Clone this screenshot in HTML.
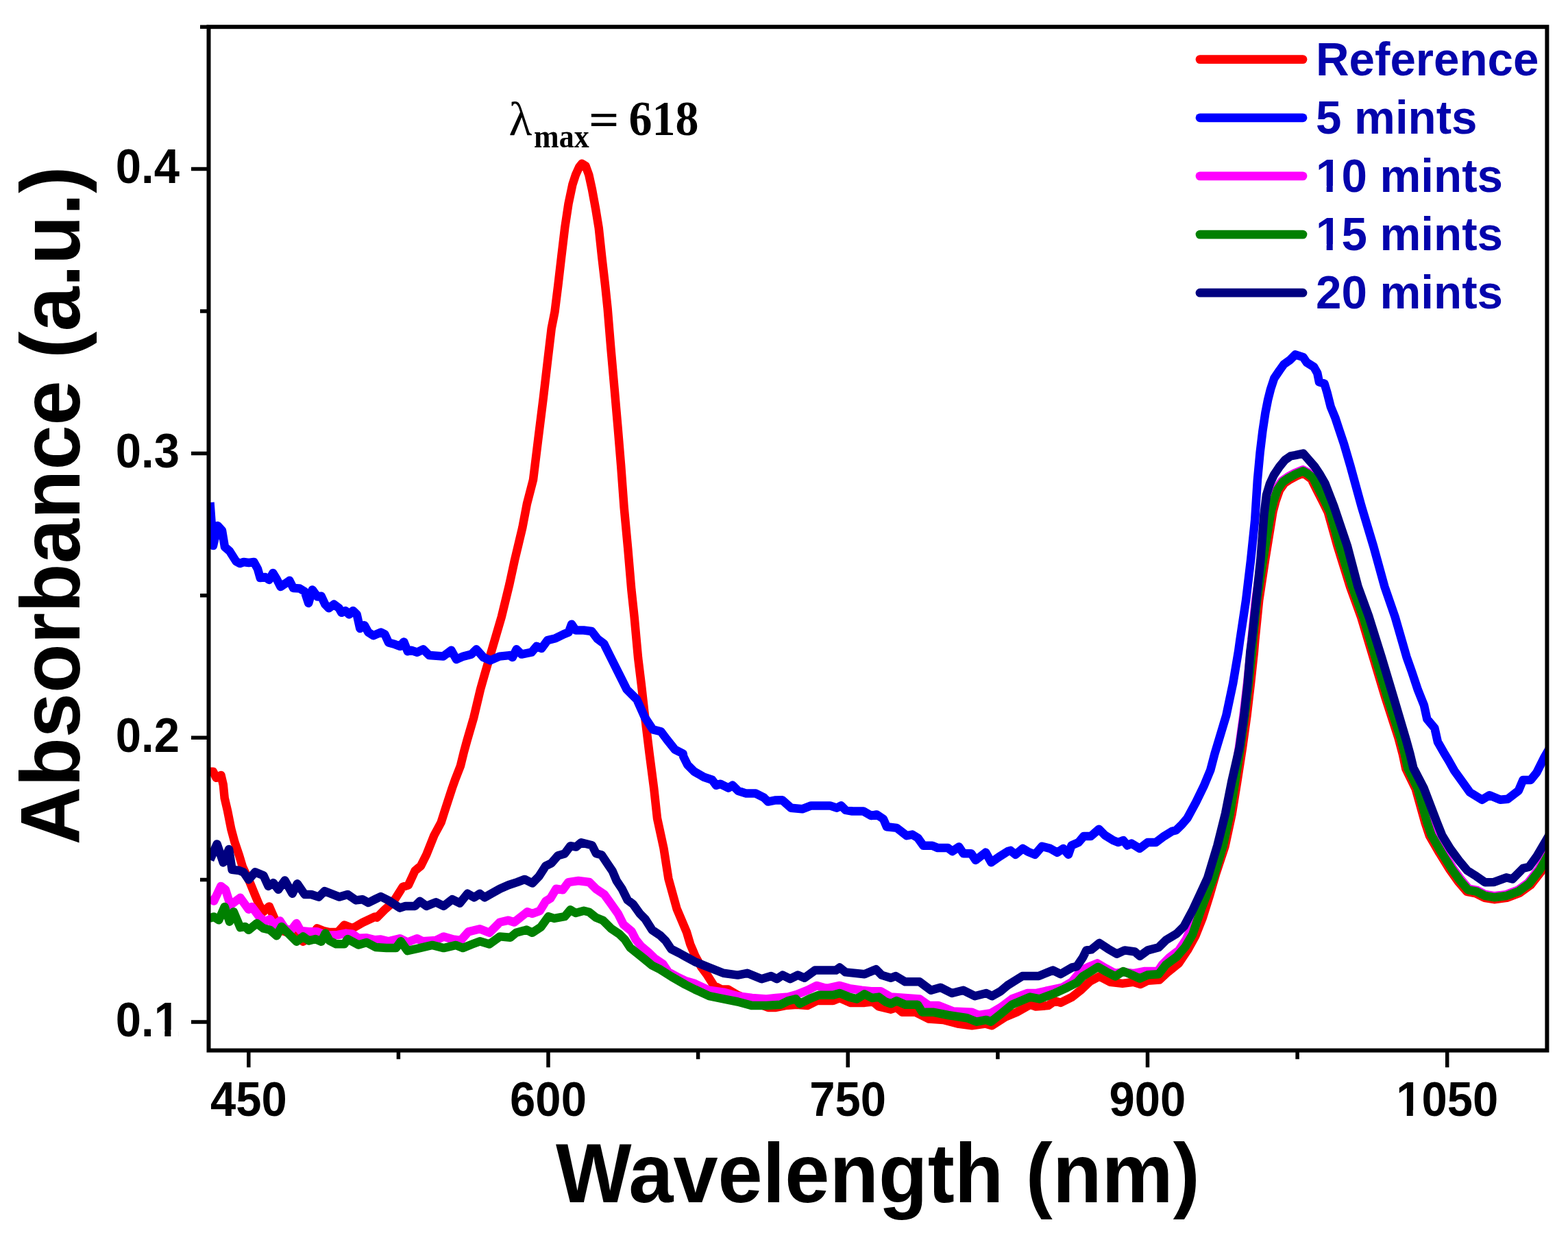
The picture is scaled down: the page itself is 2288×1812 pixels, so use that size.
<!DOCTYPE html>
<html><head><meta charset="utf-8"><title>Absorbance spectra</title>
<style>
html,body{margin:0;padding:0;background:#fff;width:2288px;height:1812px;overflow:hidden}
svg{display:block}
.tl{font-family:"Liberation Sans",sans-serif;font-weight:bold;font-size:67px;fill:#000}
.tt{font-family:"Liberation Sans",sans-serif;font-weight:bold;font-size:117.2px;fill:#000}
.lg{font-family:"Liberation Sans",sans-serif;font-weight:bold;font-size:67.3px;fill:#0404ac}
</style></head><body>
<svg width="2288" height="1812" viewBox="0 0 2288 1812">
<defs><clipPath id="pc"><rect x="304.5" y="39.2" width="1952.9" height="1493.3"/></clipPath></defs>
<rect width="2288" height="1812" fill="#fff"/>
<g clip-path="url(#pc)"><path d="M305.5 1125.8 L311.0 1125.8 L315.5 1134.8 L322.5 1131.0 L325.8 1145.0 L327.7 1164.4 L332.2 1183.7 L337.3 1209.5 L342.5 1228.8 L349.0 1248.0 L354.0 1264.8 L363.9 1285.7 L372.3 1306.2 L378.4 1320.6 L384.4 1330.3 L392.8 1322.4 L400.0 1338.7 L404.0 1352.0 L412.0 1358.0 L425.0 1362.0 L442.2 1373.7 L452.0 1368.0 L462.7 1354.4 L472.0 1358.0 L480.8 1360.0 L492.9 1360.0 L502.5 1349.6 L514.6 1354.4 L529.0 1346.0 L547.1 1337.5 L550.0 1338.6 L561.1 1327.4 L573.6 1316.3 L587.6 1294.0 L595.9 1291.3 L605.6 1270.4 L614.0 1263.4 L622.3 1246.8 L633.4 1218.9 L643.6 1199.9 L649.0 1182.8 L659.7 1150.0 L664.6 1136.2 L671.9 1117.5 L676.5 1098.7 L681.6 1080.0 L691.1 1047.5 L701.1 1005.4 L707.1 984.3 L719.5 942.1 L731.8 900.0 L743.4 852.3 L751.0 817.1 L762.2 770.3 L768.9 735.1 L778.0 700.0 L785.4 640.1 L792.7 581.6 L799.5 523.1 L804.7 479.3 L809.5 455.0 L814.3 416.6 L819.2 374.5 L824.2 332.4 L829.5 297.2 L835.4 269.2 L840.0 255.1 L845.0 244.0 L849.2 238.7 L854.5 242.0 L859.3 255.1 L863.9 276.2 L869.1 304.3 L873.7 332.4 L878.2 374.5 L883.1 416.6 L886.6 450.0 L891.4 508.5 L896.6 567.0 L901.7 625.5 L906.2 680.0 L910.6 740.0 L916.2 800.0 L921.3 860.0 L925.6 900.0 L931.1 960.0 L936.0 1000.0 L941.6 1050.0 L947.7 1100.0 L954.2 1150.0 L959.0 1193.9 L968.5 1237.8 L975.4 1281.8 L987.5 1325.7 L1002.0 1360.0 L1007.2 1377.6 L1014.6 1395.1 L1023.1 1410.5 L1032.0 1422.6 L1041.7 1437.9 L1052.9 1443.5 L1062.6 1443.5 L1076.5 1451.8 L1100.0 1462.0 L1121.0 1469.9 L1132.1 1469.9 L1146.0 1467.1 L1162.7 1465.7 L1178.0 1467.1 L1191.9 1460.1 L1215.6 1460.1 L1225.3 1456.0 L1240.6 1462.9 L1261.5 1462.9 L1274.0 1461.5 L1282.3 1468.5 L1300.0 1472.7 L1308.3 1469.9 L1316.7 1476.8 L1336.2 1476.8 L1355.6 1486.6 L1376.5 1488.0 L1397.4 1493.5 L1418.2 1496.3 L1437.7 1493.5 L1447.4 1496.3 L1466.9 1483.8 L1483.6 1476.8 L1503.1 1465.7 L1511.4 1468.5 L1529.5 1467.1 L1539.2 1460.1 L1547.6 1462.9 L1564.3 1454.6 L1578.2 1443.5 L1590.5 1431.7 L1604.2 1424.4 L1620.0 1432.8 L1637.9 1434.9 L1653.8 1432.8 L1664.3 1436.0 L1674.8 1430.7 L1691.7 1429.6 L1704.3 1418.0 L1720.1 1405.4 L1732.8 1386.4 L1744.4 1365.4 L1754.9 1339.0 L1765.4 1305.3 L1773.9 1275.8 L1787.6 1234.5 L1797.7 1187.5 L1805.3 1140.5 L1813.0 1091.0 L1819.5 1044.1 L1825.0 997.2 L1830.0 950.3 L1831.3 934.3 L1837.2 875.9 L1846.0 817.5 L1857.5 746.5 L1861.6 730.9 L1867.1 715.1 L1874.2 705.1 L1881.6 700.1 L1891.3 694.7 L1901.5 690.2 L1906.3 693.5 L1913.6 699.1 L1921.6 715.1 L1929.8 731.3 L1937.8 747.5 L1951.9 798.0 L1970.2 856.6 L1986.3 900.9 L2003.9 959.5 L2021.5 1018.0 L2040.5 1076.6 L2046.9 1100.7 L2051.3 1121.5 L2065.7 1151.0 L2079.6 1200.8 L2086.0 1219.7 L2100.4 1244.5 L2115.7 1269.2 L2127.6 1285.8 L2140.5 1300.8 L2153.5 1303.5 L2165.9 1309.8 L2180.2 1312.2 L2198.7 1309.9 L2217.2 1303.0 L2233.4 1291.3 L2249.4 1270.8 L2259.5 1252.9 L2264.6 1243.4" stroke="#ff0000" stroke-width="12.5" fill="none" stroke-linejoin="round" stroke-linecap="butt"/><path d="M306.5 733.0 L311.0 796.0 L317.6 767.0 L324.0 774.0 L328.0 798.0 L335.0 804.0 L344.5 819.0 L350.0 822.0 L355.6 820.0 L363.0 821.0 L370.5 820.0 L376.0 830.0 L379.7 843.0 L387.0 842.0 L392.7 846.0 L398.3 836.0 L403.8 845.0 L409.4 856.0 L416.8 851.0 L422.4 847.0 L428.0 858.0 L437.2 858.5 L444.6 863.0 L450.2 880.0 L455.8 860.4 L463.2 870.6 L468.7 869.7 L474.3 881.7 L479.9 887.3 L487.3 881.7 L494.7 887.3 L498.4 893.8 L504.0 891.0 L509.5 896.5 L515.1 891.0 L520.7 896.5 L525.3 917.0 L531.8 912.3 L537.4 922.5 L544.8 927.2 L555.9 922.5 L561.5 925.3 L567.0 937.4 L576.3 940.1 L583.7 942.9 L589.3 936.4 L594.9 950.3 L600.0 948.8 L608.8 951.7 L617.6 947.3 L626.3 956.1 L646.8 957.6 L658.5 948.8 L665.9 962.0 L676.1 957.6 L687.8 954.6 L695.1 947.3 L705.4 959.0 L715.6 963.4 L728.8 957.6 L743.4 956.1 L747.8 959.0 L753.7 947.3 L761.0 954.6 L775.6 951.7 L782.9 942.9 L790.2 945.9 L799.0 934.1 L810.7 931.2 L822.4 925.4 L829.8 922.4 L834.1 910.7 L840.0 919.5 L851.7 919.5 L863.4 921.0 L871.7 931.9 L881.1 938.9 L890.5 957.7 L902.2 981.1 L914.6 1005.9 L929.3 1020.5 L941.0 1046.8 L952.7 1064.4 L964.4 1067.3 L973.2 1079.0 L984.9 1093.7 L996.6 1099.5 L997.3 1103.9 L1003.2 1115.8 L1013.2 1125.8 L1027.1 1133.7 L1039.1 1137.7 L1045.0 1145.7 L1051.0 1143.7 L1063.0 1149.7 L1068.9 1145.7 L1076.9 1153.7 L1088.8 1157.6 L1102.8 1157.6 L1114.7 1163.6 L1120.7 1169.6 L1130.6 1167.6 L1141.4 1167.3 L1154.3 1178.7 L1170.6 1180.3 L1183.5 1175.4 L1211.1 1175.4 L1220.9 1178.7 L1227.4 1175.4 L1233.8 1181.9 L1243.6 1183.5 L1259.8 1183.5 L1271.2 1190.0 L1279.3 1188.4 L1289.0 1194.9 L1293.9 1206.3 L1308.5 1207.9 L1323.1 1219.2 L1331.2 1217.6 L1339.3 1222.5 L1347.4 1233.8 L1360.4 1233.8 L1368.5 1237.1 L1383.1 1237.1 L1389.6 1242.0 L1399.3 1235.5 L1405.8 1245.2 L1417.2 1245.2 L1423.7 1254.9 L1438.3 1243.6 L1446.4 1258.2 L1457.8 1250.1 L1470.7 1242.0 L1474.5 1240.9 L1481.9 1246.8 L1492.3 1237.9 L1499.7 1242.4 L1510.1 1246.8 L1520.4 1234.9 L1532.3 1237.9 L1542.7 1243.8 L1551.6 1237.9 L1559.0 1246.8 L1563.5 1233.5 L1573.8 1229.0 L1581.3 1220.1 L1591.6 1220.1 L1603.5 1209.7 L1612.4 1218.6 L1624.3 1226.0 L1631.7 1229.0 L1639.1 1226.0 L1645.0 1233.5 L1651.0 1230.5 L1662.9 1237.9 L1674.7 1229.0 L1686.6 1229.0 L1698.4 1220.1 L1710.3 1212.7 L1716.3 1211.2 L1725.2 1202.3 L1732.5 1193.7 L1745.2 1170.3 L1756.6 1146.8 L1766.3 1123.4 L1772.4 1100.0 L1789.3 1043.7 L1799.2 996.9 L1807.1 950.0 L1809.3 934.0 L1818.1 875.5 L1825.1 817.0 L1831.2 758.5 L1834.9 700.0 L1838.6 660.3 L1842.5 628.1 L1846.4 602.3 L1850.2 583.0 L1854.1 567.6 L1859.2 552.1 L1867.0 540.5 L1873.4 531.5 L1882.4 525.1 L1890.1 517.3 L1901.7 521.2 L1906.9 528.9 L1917.2 535.4 L1922.3 544.4 L1924.9 557.3 L1932.6 559.8 L1936.5 572.7 L1941.7 593.3 L1948.1 608.8 L1954.5 628.1 L1961.0 647.4 L1970.5 680.0 L1986.6 738.6 L2004.2 797.1 L2020.3 855.7 L2035.6 900.0 L2052.5 958.6 L2060.1 980.0 L2069.0 1006.7 L2077.9 1028.9 L2082.3 1049.0 L2093.4 1062.3 L2097.9 1082.3 L2106.8 1097.9 L2113.5 1109.0 L2122.3 1124.6 L2133.5 1140.1 L2144.6 1155.7 L2162.4 1166.8 L2173.5 1160.2 L2189.1 1166.8 L2200.2 1165.7 L2215.8 1153.5 L2222.4 1137.9 L2233.6 1137.9 L2242.5 1126.8 L2253.6 1104.6 L2262.0 1090.0" stroke="#0000ff" stroke-width="12.5" fill="none" stroke-linejoin="round" stroke-linecap="butt"/><path d="M306.0 1309.8 L312.1 1314.6 L322.3 1292.9 L328.9 1297.7 L336.2 1320.6 L350.6 1309.8 L362.7 1326.7 L367.5 1323.0 L378.4 1337.5 L386.8 1344.7 L394.0 1341.1 L400.0 1349.6 L408.5 1343.5 L415.7 1354.4 L424.2 1358.0 L432.6 1347.1 L438.6 1358.0 L450.7 1359.2 L462.7 1359.2 L471.2 1362.8 L480.8 1364.6 L492.9 1364.0 L504.9 1361.6 L514.6 1362.8 L523.0 1368.8 L535.0 1368.2 L547.1 1371.3 L555.6 1370.5 L566.7 1373.3 L583.4 1369.2 L594.5 1374.7 L608.4 1369.2 L616.8 1373.3 L636.2 1371.9 L647.4 1366.4 L661.3 1370.5 L672.4 1371.9 L683.5 1359.4 L700.2 1355.2 L714.1 1360.8 L729.4 1345.5 L741.9 1342.7 L750.3 1345.5 L769.7 1330.2 L776.7 1333.0 L787.8 1328.8 L796.2 1314.9 L803.1 1310.7 L811.5 1296.8 L821.2 1298.2 L829.5 1287.1 L844.0 1285.0 L859.9 1287.0 L869.9 1297.0 L881.8 1305.0 L891.8 1318.9 L901.7 1332.8 L909.7 1348.7 L921.6 1358.7 L927.6 1370.6 L935.6 1380.6 L947.5 1390.6 L955.5 1398.5 L967.4 1406.5 L975.4 1418.4 L988.0 1425.0 L1000.0 1430.9 L1013.9 1435.1 L1034.8 1444.8 L1055.6 1447.6 L1076.5 1453.2 L1097.4 1456.0 L1118.2 1457.4 L1132.1 1456.0 L1150.2 1454.6 L1164.1 1450.4 L1178.0 1444.8 L1191.9 1437.9 L1205.8 1442.1 L1225.3 1437.9 L1239.2 1442.1 L1257.3 1444.8 L1271.2 1446.2 L1285.1 1446.2 L1300.0 1454.6 L1320.9 1456.0 L1341.7 1457.4 L1355.6 1467.1 L1369.5 1467.1 L1390.4 1475.4 L1418.2 1476.8 L1428.0 1481.0 L1446.0 1478.2 L1459.9 1469.9 L1476.6 1457.4 L1498.9 1449.0 L1511.4 1449.0 L1536.4 1443.5 L1550.3 1440.7 L1564.3 1432.3 L1578.2 1415.6 L1590.0 1410.0 L1601.1 1405.4 L1613.7 1412.8 L1627.4 1420.2 L1639.0 1418.0 L1653.8 1420.2 L1670.6 1417.0 L1689.6 1417.0 L1695.9 1407.5 L1706.4 1397.0 L1720.1 1386.4 L1730.7 1370.6 L1740.2 1349.6 L1748.6 1328.5 L1757.0 1305.3 L1765.4 1279.0 L1768.7 1280.0 L1782.8 1233.2 L1792.7 1186.5 L1800.3 1139.7 L1808.0 1090.3 L1814.5 1043.5 L1820.0 996.7 L1825.0 949.8 L1826.3 933.8 L1832.2 875.2 L1841.0 816.7 L1852.6 745.6 L1856.8 729.4 L1862.6 712.9 L1870.6 701.6 L1879.0 695.8 L1889.1 690.2 L1901.2 685.2 L1909.1 689.4 L1917.6 696.2 L1926.1 712.9 L1934.3 729.1 L1942.6 746.0 L1956.7 796.5 L1975.0 855.1 L1991.1 899.4 L2008.7 958.0 L2026.3 1016.5 L2045.3 1075.1 L2051.8 1099.5 L2056.0 1119.8 L2070.4 1149.3 L2084.4 1199.4 L2090.5 1217.5 L2104.7 1242.0 L2119.9 1266.4 L2131.6 1282.8 L2143.3 1296.7 L2155.2 1298.8 L2167.4 1305.0 L2180.2 1307.2 L2197.5 1305.1 L2214.9 1298.5 L2229.9 1287.8 L2245.2 1268.0 L2255.2 1250.4 L2260.2 1241.0" stroke="#ff00ff" stroke-width="12.5" fill="none" stroke-linejoin="round" stroke-linecap="butt"/><path d="M305.4 1339.9 L312.1 1337.5 L319.3 1342.3 L327.7 1323.0 L335.0 1344.7 L341.0 1330.3 L350.6 1353.2 L357.9 1352.0 L362.7 1356.8 L374.7 1347.1 L384.4 1354.4 L394.0 1356.8 L403.7 1365.2 L410.9 1352.0 L420.5 1361.6 L432.6 1373.7 L442.2 1366.4 L450.7 1372.5 L460.3 1370.0 L468.8 1373.7 L474.8 1361.6 L480.8 1372.5 L490.5 1377.3 L502.5 1377.3 L507.3 1370.0 L523.0 1378.5 L535.0 1374.9 L548.3 1382.1 L563.9 1383.1 L577.8 1383.1 L584.8 1373.3 L594.5 1387.2 L612.6 1383.1 L630.7 1378.9 L647.4 1383.1 L665.4 1378.9 L675.2 1383.1 L689.1 1377.5 L700.2 1373.3 L714.1 1377.5 L729.4 1366.4 L744.7 1367.8 L753.1 1360.8 L768.4 1356.6 L776.7 1360.8 L789.2 1352.5 L800.3 1337.2 L808.7 1339.9 L824.0 1337.2 L832.3 1327.4 L840.0 1332.0 L851.9 1328.8 L859.9 1330.8 L869.9 1338.8 L879.8 1342.8 L891.8 1354.7 L903.7 1362.7 L911.7 1370.6 L919.6 1382.6 L929.6 1390.6 L939.5 1398.5 L951.5 1408.5 L963.4 1414.4 L980.0 1425.0 L1000.0 1436.5 L1013.9 1443.5 L1034.8 1453.2 L1055.6 1457.4 L1076.5 1461.5 L1097.4 1467.1 L1118.2 1467.1 L1139.1 1465.7 L1150.2 1460.1 L1161.3 1457.4 L1166.9 1464.3 L1180.8 1457.4 L1194.7 1451.8 L1215.6 1451.8 L1225.3 1449.0 L1239.2 1454.6 L1250.3 1457.4 L1261.5 1450.4 L1272.6 1456.0 L1282.3 1454.6 L1292.1 1461.5 L1300.0 1464.3 L1308.3 1460.1 L1320.9 1465.7 L1338.9 1465.7 L1345.9 1476.8 L1362.6 1476.8 L1383.4 1481.0 L1411.3 1485.2 L1425.2 1490.7 L1439.1 1487.9 L1446.0 1490.7 L1459.9 1479.6 L1476.6 1465.7 L1503.1 1454.6 L1517.0 1457.4 L1539.2 1449.0 L1557.3 1440.7 L1571.2 1433.7 L1580.0 1424.4 L1590.5 1418.0 L1602.1 1410.7 L1614.8 1418.0 L1627.4 1424.4 L1639.0 1417.0 L1651.6 1422.3 L1663.2 1427.5 L1674.8 1422.3 L1690.6 1421.2 L1701.2 1407.5 L1717.0 1395.9 L1729.6 1381.2 L1740.2 1363.3 L1752.5 1327.4 L1761.0 1305.0 L1770.6 1280.6 L1784.7 1233.7 L1794.7 1186.9 L1802.3 1140.0 L1810.0 1090.6 L1816.5 1043.7 L1822.0 996.9 L1827.0 950.0 L1828.3 934.0 L1834.2 875.5 L1843.0 817.0 L1854.6 746.0 L1858.7 730.0 L1864.4 713.8 L1872.0 703.0 L1880.0 697.5 L1890.0 692.0 L1901.3 687.2 L1908.0 691.0 L1916.0 697.4 L1924.3 713.8 L1932.5 730.0 L1940.7 746.6 L1954.8 797.1 L1973.1 855.7 L1989.2 900.0 L2006.8 958.6 L2024.4 1017.1 L2043.4 1075.7 L2049.8 1100.0 L2054.1 1120.5 L2068.5 1150.0 L2082.5 1200.0 L2088.7 1218.4 L2103.0 1243.0 L2118.2 1267.5 L2130.0 1284.0 L2142.2 1298.3 L2154.5 1300.7 L2166.8 1306.9 L2180.2 1309.2 L2198.0 1307.0 L2215.8 1300.3 L2231.3 1289.2 L2246.9 1269.1 L2256.9 1251.4 L2262.0 1242.0" stroke="#008000" stroke-width="12.5" fill="none" stroke-linejoin="round" stroke-linecap="butt"/><path d="M306.4 1254.5 L316.7 1231.4 L325.8 1258.4 L334.1 1239.0 L338.6 1268.7 L348.9 1270.0 L355.4 1272.6 L362.7 1283.3 L372.3 1272.4 L384.4 1277.2 L391.6 1292.9 L398.8 1288.1 L406.1 1297.7 L415.7 1284.5 L426.6 1303.8 L433.8 1289.3 L444.6 1305.0 L454.3 1305.0 L465.1 1308.6 L473.6 1300.1 L483.2 1303.8 L495.3 1308.6 L507.3 1305.0 L519.4 1313.4 L529.0 1312.2 L537.5 1317.0 L547.1 1312.2 L555.6 1308.0 L566.7 1313.5 L583.4 1324.6 L591.7 1321.9 L605.6 1321.9 L612.6 1314.9 L622.3 1321.9 L636.2 1316.3 L647.4 1321.9 L659.9 1312.1 L671.0 1317.7 L682.1 1303.8 L691.9 1309.3 L700.2 1303.8 L707.2 1309.3 L716.9 1303.8 L729.4 1296.8 L741.9 1291.3 L754.5 1287.1 L765.6 1282.9 L776.7 1288.5 L786.4 1278.7 L796.2 1263.4 L804.5 1259.3 L814.3 1248.2 L824.0 1245.4 L832.3 1234.2 L840.7 1235.6 L848.0 1229.3 L863.9 1233.3 L869.9 1245.2 L877.8 1247.2 L885.8 1259.2 L893.8 1271.1 L899.7 1285.0 L907.7 1297.0 L915.6 1312.9 L923.6 1318.9 L933.6 1332.8 L941.5 1340.8 L951.5 1356.7 L963.4 1364.7 L971.4 1372.6 L979.4 1384.6 L991.3 1390.6 L1000.0 1395.5 L1013.9 1403.1 L1034.8 1411.5 L1055.6 1419.8 L1076.5 1422.6 L1090.4 1419.8 L1111.3 1428.2 L1125.2 1424.0 L1133.5 1428.2 L1141.9 1422.6 L1153.0 1428.2 L1164.1 1422.6 L1173.9 1426.8 L1189.2 1415.6 L1219.7 1415.6 L1225.3 1411.5 L1233.7 1418.4 L1261.5 1421.2 L1278.2 1414.2 L1286.5 1422.6 L1300.0 1426.8 L1307.0 1424.0 L1320.9 1432.3 L1341.7 1432.3 L1358.4 1444.8 L1372.3 1440.7 L1389.0 1449.0 L1405.7 1444.8 L1422.4 1453.2 L1439.1 1449.0 L1447.4 1453.2 L1459.9 1446.2 L1469.7 1437.9 L1491.9 1424.0 L1515.6 1424.0 L1536.4 1415.6 L1547.6 1421.2 L1564.3 1411.5 L1571.2 1410.1 L1580.0 1397.0 L1585.3 1386.4 L1592.6 1385.4 L1604.2 1375.9 L1616.9 1384.3 L1629.5 1391.7 L1641.1 1386.4 L1655.9 1388.5 L1663.2 1394.9 L1674.8 1386.4 L1690.6 1382.2 L1701.2 1371.7 L1717.0 1362.2 L1727.5 1351.7 L1740.5 1327.4 L1751.0 1305.0 L1762.2 1280.6 L1776.3 1233.7 L1788.0 1186.9 L1797.3 1140.0 L1808.6 1090.6 L1815.3 1043.7 L1820.6 996.9 L1824.4 950.0 L1826.6 934.0 L1833.1 875.5 L1839.3 817.0 L1844.5 750.0 L1848.0 722.0 L1853.0 705.6 L1858.7 693.3 L1866.9 681.0 L1875.0 671.1 L1883.3 665.4 L1890.1 664.2 L1901.7 661.6 L1909.5 670.6 L1918.5 680.9 L1926.2 692.5 L1933.4 705.1 L1946.4 738.6 L1966.1 797.1 L1981.5 855.7 L1997.6 900.0 L2015.9 958.6 L2033.4 1017.1 L2052.0 1080.0 L2057.5 1100.0 L2062.4 1120.5 L2077.7 1150.0 L2096.8 1200.0 L2104.1 1218.4 L2116.0 1238.0 L2128.7 1255.3 L2141.0 1270.0 L2154.5 1278.6 L2166.8 1287.2 L2180.2 1286.9 L2198.0 1280.3 L2206.9 1282.5 L2222.4 1266.9 L2231.3 1264.7 L2242.5 1249.1 L2256.9 1224.7 L2262.0 1216.0" stroke="#000080" stroke-width="12.5" fill="none" stroke-linejoin="round" stroke-linecap="butt"/></g>
<rect x="304.5" y="39.2" width="1952.9" height="1493.3" fill="none" stroke="#000" stroke-width="6"/><path d="M362.8 1532.5V1557.2M800.0 1532.5V1557.2M1237.2 1532.5V1557.2M1674.5 1532.5V1557.2M2111.7 1532.5V1557.2M581.4 1532.5V1545.2M1018.6 1532.5V1545.2M1455.9 1532.5V1545.2M1893.1 1532.5V1545.2M304.5 1491.0H279.0M304.5 1076.2H279.0M304.5 661.4H279.0M304.5 246.6H279.0M304.5 1283.6H292.0M304.5 868.8H292.0M304.5 454.0H292.0M304.5 39.2H292.0" stroke="#000" stroke-width="5.5" fill="none"/><g transform="translate(0 1628.5) scale(1 1.04) translate(0 -1628.5)"><text x="362.8" y="1628.5" text-anchor="middle" class="tl">450</text></g><g transform="translate(0 1628.5) scale(1 1.04) translate(0 -1628.5)"><text x="800.0" y="1628.5" text-anchor="middle" class="tl">600</text></g><g transform="translate(0 1628.5) scale(1 1.04) translate(0 -1628.5)"><text x="1237.2" y="1628.5" text-anchor="middle" class="tl">750</text></g><g transform="translate(0 1628.5) scale(1 1.04) translate(0 -1628.5)"><text x="1674.5" y="1628.5" text-anchor="middle" class="tl">900</text></g><g transform="translate(0 1628.5) scale(1 1.04) translate(0 -1628.5)"><text x="2111.7" y="1628.5" text-anchor="middle" class="tl">1050</text><rect x="2039.85" y="1619.79" width="12.93" height="10.72" fill="#fff"/><rect x="2061.76" y="1619.79" width="11.39" height="10.72" fill="#fff"/></g><g transform="translate(0 1511.6) scale(1 1.04) translate(0 -1511.6)"><text x="262" y="1511.6" text-anchor="end" class="tl">0.1</text><rect x="227.42" y="1502.89" width="12.93" height="10.72" fill="#fff"/><rect x="249.33" y="1502.89" width="11.39" height="10.72" fill="#fff"/></g><g transform="translate(0 1096.8) scale(1 1.04) translate(0 -1096.8)"><text x="262" y="1096.8" text-anchor="end" class="tl">0.2</text></g><g transform="translate(0 682.0) scale(1 1.04) translate(0 -682.0)"><text x="262" y="682.0" text-anchor="end" class="tl">0.3</text></g><g transform="translate(0 267.2) scale(1 1.04) translate(0 -267.2)"><text x="262" y="267.2" text-anchor="end" class="tl">0.4</text></g><text x="811" y="1754.5" class="tt" transform="translate(0 1754.5) scale(1 1.045) translate(0 -1754.5)">Wavelength (nm)</text><text x="0" y="0" class="tt" transform="translate(116 1232.5) rotate(-90) scale(1 1.045)">Absorbance (a.u.)</text><line x1="1751" y1="86.6" x2="1901" y2="86.6" stroke="#ff0000" stroke-width="12.8" stroke-linecap="round"/><g transform="translate(0 109.8) scale(1 1.03) translate(0 -109.8)"><text x="1920" y="109.8" class="lg">Reference</text></g><line x1="1751" y1="171.8" x2="1901" y2="171.8" stroke="#0000ff" stroke-width="12.8" stroke-linecap="round"/><g transform="translate(0 194.9) scale(1 1.03) translate(0 -194.9)"><text x="1920" y="194.9" class="lg">5 mints</text></g><line x1="1751" y1="256.9" x2="1901" y2="256.9" stroke="#ff00ff" stroke-width="12.8" stroke-linecap="round"/><g transform="translate(0 280.1) scale(1 1.03) translate(0 -280.1)"><text x="1920" y="280.1" class="lg">10 mints</text><rect x="1922.69" y="271.35" width="12.99" height="10.77" fill="#fff"/><rect x="1944.70" y="271.35" width="11.44" height="10.77" fill="#fff"/></g><line x1="1751" y1="342.1" x2="1901" y2="342.1" stroke="#008000" stroke-width="12.8" stroke-linecap="round"/><g transform="translate(0 365.2) scale(1 1.03) translate(0 -365.2)"><text x="1920" y="365.2" class="lg">15 mints</text><rect x="1922.69" y="356.50" width="12.99" height="10.77" fill="#fff"/><rect x="1944.70" y="356.50" width="11.44" height="10.77" fill="#fff"/></g><line x1="1751" y1="427.2" x2="1901" y2="427.2" stroke="#000080" stroke-width="12.8" stroke-linecap="round"/><g transform="translate(0 450.4) scale(1 1.03) translate(0 -450.4)"><text x="1920" y="450.4" class="lg">20 mints</text></g><text x="742.5" y="196.7" font-family="Liberation Serif, serif" font-size="70" fill="#000">λ</text><text x="779" y="214.6" font-family="Liberation Serif, serif" font-weight="bold" font-size="44" fill="#000" transform="translate(0 214.6) scale(1 1.1) translate(0 -214.6)">max</text><text x="859" y="197.5" font-family="Liberation Serif, serif" font-weight="bold" font-size="68" fill="#000" transform="translate(859 0) scale(1.15 1) translate(-859 0)">=</text><text x="917.5" y="197.5" font-family="Liberation Serif, serif" font-weight="bold" font-size="68" fill="#000" transform="translate(0 197.5) scale(1 1.065) translate(0 -197.5)">618</text>
</svg>
</body></html>
